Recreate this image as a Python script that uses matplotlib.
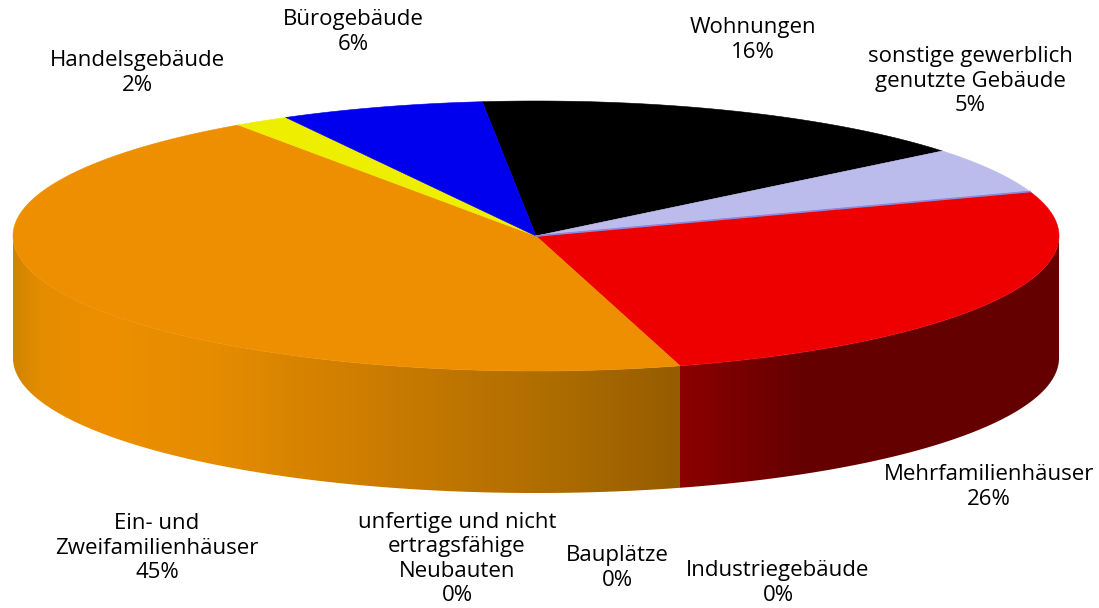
import numpy as np
import matplotlib
matplotlib.use("Agg")
import matplotlib.pyplot as plt
from matplotlib.colors import to_rgb
from matplotlib.patches import Polygon

# shares, clockwise from the top, and the printed labels
categories = ["Wohnungen", "sonstige gewerblich\ngenutzte Gebäude", "Mehrfamilienhäuser",
              "Industriegebäude", "Bauplätze", "unfertige und nicht\nertragsfähige\nNeubauten",
              "Ein- und\nZweifamilienhäuser", "Handelsgebäude", "Bürogebäude"]
values = [15.8, 5.5, 25.9, 0.0, 0.0, 0.0, 44.8, 1.7, 6.3]
shown = [16, 5, 26, 0, 0, 0, 45, 2, 6]
colors = ["#000000", "#bcbcec", "#ee0000", "#808080", "#808080", "#808080",
          "#ed8f00", "#eeee00", "#0000ee"]
label_x = [753, 970, 989, 778, 617, 457, 157, 137, 353]
label_y = [40, 81, 487, 583, 568, 559, 548, 73, 32]

W, H = 1099, 608
CX, CY, A, B, DEPTH = 536, 236, 523, 135, 122
START = 95.9

plt.rcParams["font.family"] = ["Open Sans", "DejaVu Sans"]
fig = plt.figure(figsize=(W / 100, H / 100), dpi=100)
ax = fig.add_axes([0, 0, 1, 1])
ax.set_xlim(0, W)
ax.set_ylim(H, 0)
ax.axis("off")


def rim(t1, t2, dy=0):
    t = np.radians(np.linspace(t1, t2, 300))
    return np.column_stack([CX + A * np.cos(t), CY + dy - B * np.sin(t)])


def side(t1, t2, stops):
    # wall between two angles, filled with a horizontal gradient
    pts = np.vstack([rim(t1, t2), rim(t2, t1, DEPTH)])
    xs = np.arange(W) + 0.5
    rgb = np.array(
        [np.interp(xs, [s[0] for s in stops], [to_rgb(s[1])[k] for s in stops]) for k in range(3)]
    ).T[None, :, :]
    im = ax.imshow(rgb, aspect="auto", extent=[0, W, H, 0], zorder=1)
    im.set_clip_path(Polygon(pts, closed=True, transform=ax.transData))


edges = START - np.cumsum([0] + values) * 3.6
split = edges[3] + 360  # where orange meets red on the front wall
split_x = CX + A * np.cos(np.radians(split))

side(180, split,
     [(13, "#d08400"), (40, "#e48c00"), (100, "#ed8f00"), (210, "#e68c00"),
      (400, "#c87a00"), (560, "#ad6c00"), (split_x, "#955c00")])
side(split, 360,
     [(split_x, "#8c0000"), (800, "#660000"), (CX + A, "#640000")])

# top face
for i, v in enumerate(values):
    if v == 0:
        continue
    pts = np.vstack([[CX, CY], rim(edges[i], edges[i + 1])])
    ax.add_patch(Polygon(pts, closed=True, facecolor=colors[i], edgecolor=colors[i],
                         linewidth=0.4, zorder=2))

# thin blue seam where the lavender slice meets the red one
seam = rim(edges[2], edges[2])[0]
ax.plot([CX, seam[0]], [CY, seam[1]], color="#8a8ae0", lw=1.2, zorder=3)

for name, pct, x, y in zip(categories, shown, label_x, label_y):
    ax.text(x, y, f"{name}\n{pct}%", ha="center", va="center", fontsize=16,
            color="#000000", linespacing=1.2, zorder=4)

ax.set_xlim(0, W)
ax.set_ylim(H, 0)
fig.savefig("out.png", dpi=100)
